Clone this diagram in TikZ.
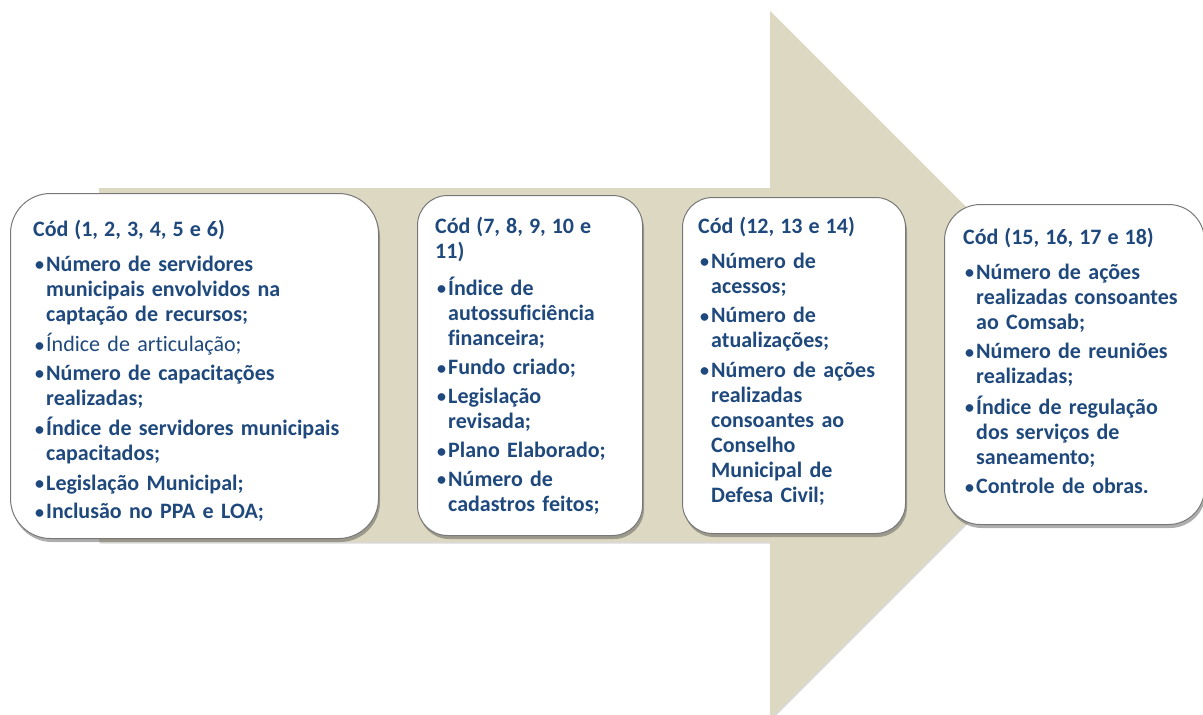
\documentclass[tikz,border=0pt]{standalone}
\usepackage{fontspec}
\setmainfont{Carlito}[Ligatures=CommonOff]
\usetikzlibrary{shadows}
\definecolor{txtblue}{RGB}{31,73,125}
\definecolor{beige}{RGB}{221,216,194}
\definecolor{boxgray}{RGB}{120,120,120}
\newcommand{\lns}[1]{\begin{tabular}[t]{@{}l@{}}#1\end{tabular}}
\newcommand{\bitem}[1]{\par\noindent\makebox[13pt][l]{\hspace{2pt}\raisebox{0.5pt}{\fontsize{18}{18}\selectfont •}}\lns{#1}}
\newcommand{\boxhead}[1]{\par\noindent{\spaceskip=6pt\lns{#1}}\par\vspace{6pt}}
\begin{document}
\begin{tikzpicture}[x=1pt,y=-1pt,
  box/.style={draw=boxgray, line width=1pt, fill=white, rounded corners=#1,
    anchor=north west, inner sep=0pt,
    drop shadow={shadow xshift=1.5pt, shadow yshift=-3.5pt, opacity=0.45, fill=black!70}},
  txt/.style={anchor=north west, inner sep=0pt, text width=#1, text=txtblue,
    font=\fontsize{22}{25}\selectfont\bfseries},
  arrowshape/.style={fill=beige, drop shadow={shadow xshift=1pt, shadow yshift=-1.5pt, opacity=0.25, fill=black!60}}]
\useasboundingbox (0,0) rectangle (1203,715);
\clip (0,0) rectangle (1203,715);
% big arrow
\path[arrowshape] (99,188) -- (770,188) -- (770,11) -- (1124,365) -- (770,719) -- (770,542) -- (99,542) -- cycle;
% boxes
\node[box=40pt, minimum width=368pt, minimum height=345pt] (b1) at (10,193) {};
\node[box=30pt, minimum width=225pt, minimum height=340pt] (b2) at (417,195) {};
\node[box=30pt, minimum width=223pt, minimum height=336pt] (b3) at (682,197) {};
\node[box=36pt, minimum width=260pt, minimum height=320pt] (b4) at (944,204) {};
% texts
\node[txt=340pt] (t1) at (33,208) {\setlength{\parskip}{3.5pt}%
\boxhead{Cód (1, 2, 3, 4, 5 e 6)}
\bitem{Número de servidores\\municipais envolvidos na\\captação de recursos;}
\bitem{{\mdseries Índice de articulação;}}
\bitem{Número de capacitações\\realizadas;}
\bitem{Índice de servidores municipais\\capacitados;}
\bitem{Legislação Municipal;}
\bitem{Inclusão no PPA e LOA;}};
\node[txt=200pt] (t2) at (435,205) {\setlength{\parskip}{3.5pt}%
\par\noindent{\spaceskip=6pt\lns{Cód (7, 8, 9, 10 e\\11)}}\par\vspace{6pt}
\bitem{Índice de\\autossuficiência\\financeira;}
\bitem{Fundo criado;}
\bitem{Legislação\\revisada;}
\bitem{Plano Elaborado;}
\bitem{Número de\\cadastros feitos;}};
\node[txt=200pt] (t3) at (698,205) {\setlength{\parskip}{3.5pt}%
\boxhead{Cód (12, 13 e 14)}
\bitem{Número de\\acessos;}
\bitem{Número de\\atualizações;}
\bitem{Número de ações\\realizadas\\consoantes ao\\Conselho\\Municipal de\\Defesa Civil;}};
\node[txt=235pt] (t4) at (963,216) {\setlength{\parskip}{3.5pt}%
\boxhead{Cód (15, 16, 17 e 18)}
\bitem{Número de ações\\realizadas consoantes\\ao Comsab;}
\bitem{Número de reuniões\\realizadas;}
\bitem{Índice de regulação\\dos serviços de\\saneamento;}
\bitem{Controle de obras.}};
\end{tikzpicture}
\end{document}
